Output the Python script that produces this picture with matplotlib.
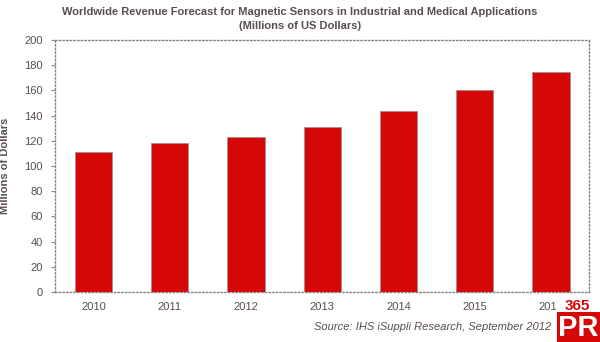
import matplotlib
matplotlib.use("Agg")
from matplotlib import pyplot as plt
from matplotlib.patches import Rectangle
import numpy as np

plt.rcParams['font.family'] = ['Liberation Sans', 'DejaVu Sans']

years = ['2010', '2011', '2012', '2013', '2014', '2015', '2016']
revenue = [111, 118, 123, 131, 144, 160, 175]
y_ticks = list(range(0, 201, 20))

text_col = '#5a4d4d'
red = '#d60707'

fig = plt.figure(figsize=(6, 3.42), dpi=100)
ax = fig.add_axes([0.092, 0.146, 0.89, 0.737])

x = np.arange(len(years))
ax.bar(x, revenue, width=0.49, color=red, edgecolor='#a09090', linewidth=0.6, zorder=3)

ax.set_xlim(-0.5, len(years) - 0.5)
ax.set_ylim(0, 200)
ax.set_yticks(y_ticks)
ax.set_xticks(x)
ax.set_xticklabels(years)
ax.tick_params(axis='y', length=3, color='#888888', labelsize=8, labelcolor=text_col, pad=6)
ax.tick_params(axis='x', length=0, labelsize=8, labelcolor=text_col, pad=7)
for s in ax.spines.values():
    s.set_linestyle(':')
    s.set_color('#8a8080')
    s.set_linewidth(1.0)

ax.set_ylabel('Millions of Dollars', fontsize=8, fontweight='bold', color=text_col, labelpad=10)

fig.text(0.5, 0.965, 'Worldwide Revenue Forecast for Magnetic Sensors in Industrial and Medical Applications',
         ha='center', va='center', fontsize=8, fontweight='bold', color=text_col)
fig.text(0.5, 0.925, '(Millions of US Dollars)',
         ha='center', va='center', fontsize=8, fontweight='bold', color=text_col)

fig.text(0.918, 0.044, 'Source: IHS iSuppli Research, September 2012', ha='right', va='center',
         fontsize=8, style='italic', color=text_col)

# logo in the corner, over the last year label
fig.patches.append(Rectangle((0.928, 0.0), 0.072, 0.088, transform=fig.transFigure,
                             facecolor=red, edgecolor='none', zorder=2))
fig.patches.append(Rectangle((0.928, 0.088), 0.072, 0.035, transform=fig.transFigure,
                             facecolor='white', edgecolor='none', zorder=2))
fig.text(0.963, 0.104, '365', ha='center', va='center', fontsize=11, fontweight='bold', color=red,
         zorder=3)
fig.text(0.964, 0.042, 'PR', ha='center', va='center', fontsize=21, fontweight='bold', color='white',
         zorder=4)

fig.savefig('out.png', dpi=100)
